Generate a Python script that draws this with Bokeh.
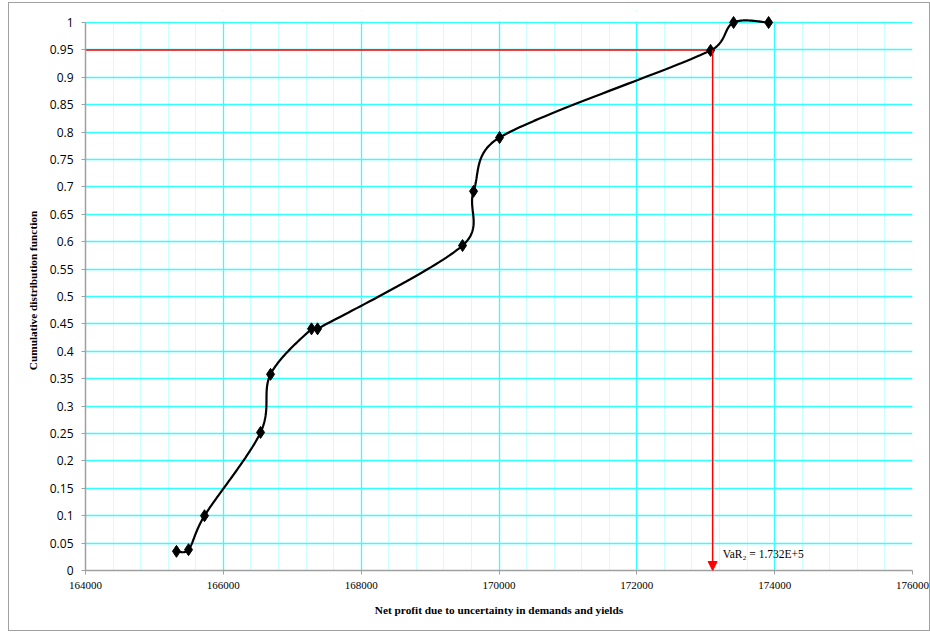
import numpy as np
from bokeh.plotting import figure
from bokeh.models import Range1d, FixedTicker, Arrow, NormalHead, Label, BoxAnnotation
from bokeh.embed import file_html
from bokeh.resources import INLINE

# ---- data ----
profit = [165320, 165495, 165727, 166540, 166685, 167280, 167367,
          169471, 169631, 170008, 173070, 173404, 173912]
cdf = [0.035, 0.038, 0.100, 0.252, 0.358, 0.441, 0.441,
       0.593, 0.692, 0.790, 0.949, 1.000, 1.000]

var_value = 173100
var_level = 0.95
var_label = "VaR\u2082 = 1.732E+5"

x_ticks = [164000, 166000, 168000, 170000, 172000, 174000, 176000]
x_tick_labels = ["164000", "166000", "168000", "170000", "172000", "174000", "176000"]
y_ticks = [0, 0.05, 0.1, 0.15, 0.2, 0.25, 0.3, 0.35, 0.4, 0.45, 0.5,
           0.55, 0.6, 0.65, 0.7, 0.75, 0.8, 0.85, 0.9, 0.95, 1]
y_tick_labels = ["0", "0.05", "0.1", "0.15", "0.2", "0.25", "0.3", "0.35",
                 "0.4", "0.45", "0.5", "0.55", "0.6", "0.65", "0.7", "0.75",
                 "0.8", "0.85", "0.9", "0.95", "1"]

x_title = "Net profit due to uncertainty in demands and yields"
y_title = "Cumulative distribution function"

# ---- layout ----
XMIN, XMAX, YMIN, YMAX = 164000, 176000, 0, 1
FW, FH0 = 827, 548          # visible chart area (pixels) for 0..1
EXTRA = 12                  # headroom so markers at y=1 are not clipped
YTOP = YMAX + EXTRA / FH0
FH = FH0 + EXTRA

p = figure(frame_width=FW, frame_height=FH, output_backend="svg",
           toolbar_location=None, x_range=Range1d(XMIN, XMAX),
           y_range=Range1d(YMIN, YTOP), min_border_left=76,
           min_border_right=17, min_border_top=19 - EXTRA, min_border_bottom=60)
p.styles = {"border": "1px solid #a0a0a0", "margin-left": "8px", "margin-top": "2px"}
p.outline_line_color = None
p.background_fill_color = "white"
p.border_fill_color = "white"

# grids
x_minor = list(np.arange(XMIN, XMAX + 1, 400))
p.xaxis.ticker = FixedTicker(ticks=x_ticks, minor_ticks=x_minor)
p.yaxis.ticker = FixedTicker(ticks=y_ticks)
p.xgrid.grid_line_color = "#33ffff"
p.xgrid.grid_line_width = 1.3
p.xgrid.minor_grid_line_color = "#ccffff"
p.xgrid.minor_grid_line_width = 1
p.ygrid.grid_line_color = "#33ffff"
p.ygrid.grid_line_width = 1.3

# white mask over the headroom above y=1 (drawn above grid, below data)
p.add_layout(BoxAnnotation(bottom=YMAX + 1.0 / FH0, fill_color="white", fill_alpha=1.0,
                           line_color=None, level="underlay"))

# axes
for ax in (p.xaxis[0], p.yaxis[0]):
    ax.axis_line_color = "#a0a0a0"
    ax.axis_line_width = 1.5
    ax.major_tick_line_color = "#a0a0a0"
    ax.major_tick_in = 0
    ax.major_tick_out = 4
    ax.minor_tick_line_color = None
    ax.axis_label_text_font = "Liberation Serif"
    ax.axis_label_text_font_style = "bold"
    ax.axis_label_text_color = "black"
    ax.axis_label_text_font_size = "11.3px"

p.yaxis.bounds = (YMIN, YMAX)
p.yaxis.major_label_overrides = {v: s for v, s in zip(y_ticks, y_tick_labels)}
p.yaxis.major_label_text_font = "Open Sans"
p.yaxis.major_label_text_font_size = "12px"
p.yaxis.major_label_text_color = "black"
p.yaxis.major_label_standoff = 8
p.yaxis.axis_label = y_title
p.yaxis.axis_label_standoff = 8

p.xaxis.major_label_overrides = {v: s for v, s in zip(x_ticks, x_tick_labels)}
p.xaxis.major_label_text_font = "Liberation Serif"
p.xaxis.major_label_text_font_size = "11px"
p.xaxis.major_label_text_color = "black"
p.xaxis.major_label_standoff = 7
p.xaxis.axis_label = x_title
p.xaxis.axis_label_standoff = 12

# ---- VaR lines ----
p.line([XMIN, var_value], [var_level, var_level], line_color="#ff0000", line_width=1.5)
p.add_layout(Arrow(end=NormalHead(size=9, fill_color="#ff0000", line_color="#ff0000"),
                   x_start=var_value, y_start=var_level, x_end=var_value, y_end=YMIN,
                   line_color="#ff0000", line_width=1.5))
p.add_layout(Label(x=var_value, y=0.031, x_offset=10, text=var_label,
                   text_font="Liberation Serif", text_font_size="11.5px",
                   text_baseline="middle", text_color="black"))

# ---- smoothed curve (Excel-like Bezier in screen space) ----
sx = FW / (XMAX - XMIN)
sy = FH0 / (YMAX - YMIN)
P = np.column_stack([np.array(profit) * sx, np.array(cdf) * sy])
n = len(P)
xs, ys = [], []
t = np.linspace(0, 1, 40)


def limit(v, maxlen):
    L = np.hypot(*v)
    return v * (maxlen / L) if L > maxlen and L > 0 else v


for i in range(n - 1):
    p0 = P[max(i - 1, 0)]
    p1 = P[i]
    p2 = P[i + 1]
    p3 = P[min(i + 2, n - 1)]
    seglen = np.hypot(*(p2 - p1))
    c1 = p1 + limit((p2 - p0) / 6, seglen / 2)
    c2 = p2 - limit((p3 - p1) / 6, seglen / 2)
    seg = ((1 - t) ** 3)[:, None] * p1 + (3 * (1 - t) ** 2 * t)[:, None] * c1 + \
          (3 * (1 - t) * t ** 2)[:, None] * c2 + (t ** 3)[:, None] * p2
    xs.extend(seg[:, 0] / sx)
    ys.extend(seg[:, 1] / sy)
p.line(xs, ys, line_color="black", line_width=2.2)
p.scatter(profit, cdf, marker="diamond", size=12, fill_color="black", line_color="black")

open("out.html", "w").write(file_html(p, INLINE))
